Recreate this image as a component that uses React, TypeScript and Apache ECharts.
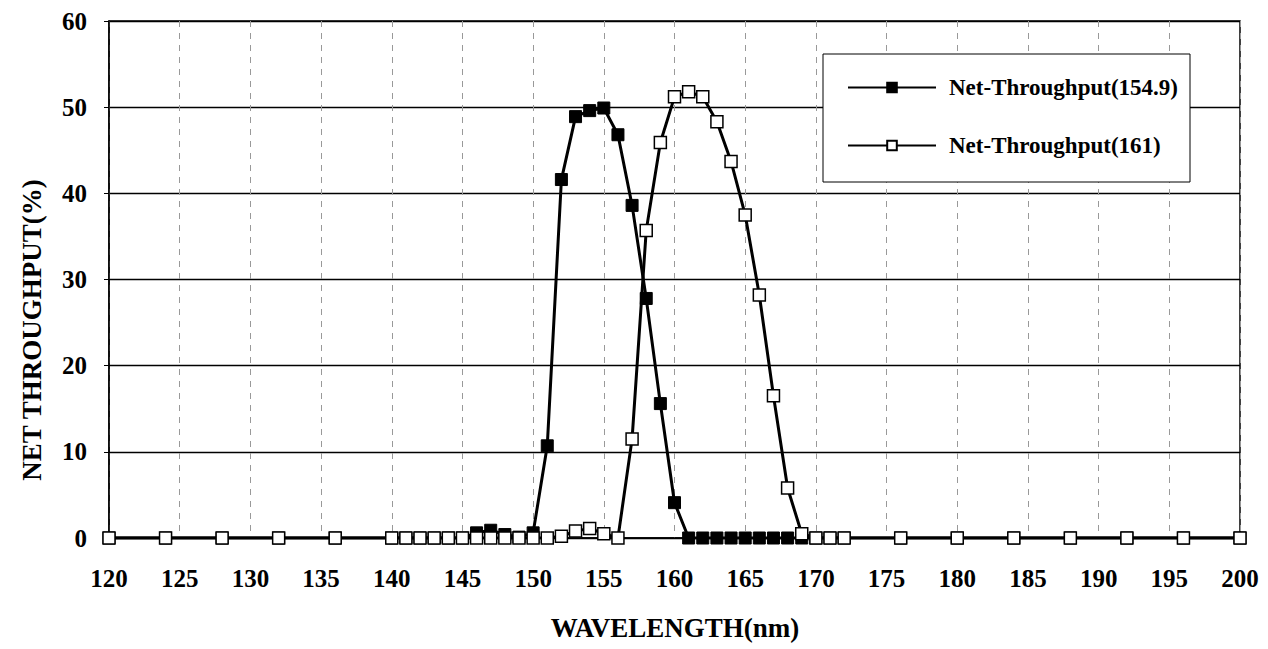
import React, { useEffect, useRef } from "react";
import * as echarts from "echarts";

const wavelengths = [
  120, 124, 128, 132, 136,
  140, 141, 142, 143, 144, 145, 146, 147, 148, 149, 150,
  151, 152, 153, 154, 155, 156, 157, 158, 159, 160,
  161, 162, 163, 164, 165, 166, 167, 168, 169, 170, 171, 172,
  176, 180, 184, 188, 192, 196, 200,
];

const throughput1549 = [
  0, 0, 0, 0, 0,
  0, 0, 0, 0, 0, 0, 0.6, 0.9, 0.4, 0.1, 0.6,
  10.7, 41.6, 48.9, 49.6, 49.9, 46.8, 38.6, 27.8, 15.6, 4.1,
  0, 0, 0, 0, 0, 0, 0, 0, 0, 0, 0, 0,
  0, 0, 0, 0, 0, 0, 0,
];

const throughput161 = [
  0, 0, 0, 0, 0,
  0, 0, 0, 0, 0, 0, 0, 0, 0, 0, 0,
  0, 0.2, 0.8, 1.1, 0.5, 0, 11.5, 35.7, 45.9, 51.2,
  51.8, 51.2, 48.3, 43.7, 37.5, 28.2, 16.5, 5.8, 0.5, 0, 0, 0,
  0, 0, 0, 0, 0, 0, 0,
];

const seriesNames = ["Net-Throughput(154.9)", "Net-Throughput(161)"];
const xTitle = "WAVELENGTH(nm)";
const yTitle = "NET THROUGHPUT(%)";

export default function App() {
  const ref = useRef<HTMLDivElement>(null);

  useEffect(() => {
    const chart = echarts.init(ref.current as HTMLDivElement, null, { renderer: "svg" });
    const font = "'Liberation Serif', 'Times New Roman', serif";
    const pairs1 = wavelengths.map((w, i) => [w, throughput1549[i]]);
    const pairs2 = wavelengths.map((w, i) => [w, throughput161[i]]);

    chart.setOption({
      animation: false,
      backgroundColor: "#fff",
      grid: {
        left: 109,
        right: 28,
        top: 21,
        bottom: 111,
        show: true,
        borderColor: "#000",
        borderWidth: 1.5,
      },
      xAxis: {
        type: "value",
        min: 120,
        max: 200,
        interval: 5,
        axisLine: { show: true, lineStyle: { color: "#000", width: 1.5 } },
        axisTick: { show: false },
        axisLabel: {
          fontFamily: font,
          fontWeight: "bold",
          fontSize: 25,
          color: "#000",
          margin: 28,
        },
        splitLine: { show: true, lineStyle: { color: "#999", type: [6, 6], width: 1 } },
      },
      yAxis: {
        type: "value",
        min: 0,
        max: 60,
        interval: 10,
        axisLine: { show: true, lineStyle: { color: "#000", width: 1.5 } },
        axisTick: { show: true, length: 5, lineStyle: { color: "#000" } },
        axisLabel: {
          fontFamily: font,
          fontWeight: "bold",
          fontSize: 25,
          color: "#000",
          margin: 22,
        },
        splitLine: { show: true, lineStyle: { color: "#000", width: 1.3 } },
      },
      legend: {
        orient: "vertical",
        left: 842,
        top: 71,
        z: 10,
        itemWidth: 88,
        itemHeight: 12,
        itemGap: 35,
        textStyle: {
          fontFamily: font,
          fontWeight: "bold",
          fontSize: 23,
          color: "#000",
          padding: [0, 0, 0, 8],
        },
        data: seriesNames,
      },
      graphic: [
        {
          type: "rect",
          z: 3,
          shape: { x: 823, y: 54, width: 367, height: 128 },
          style: { fill: "#fff", stroke: "#000", lineWidth: 1 },
        },
        {
          type: "text",
          x: 675,
          y: 628,
          style: {
            text: xTitle,
            font: "bold 27px 'Liberation Serif', serif",
            fill: "#000",
            textAlign: "center",
            textVerticalAlign: "middle",
          },
        },
        {
          type: "text",
          x: 32,
          y: 330,
          rotation: Math.PI / 2,
          style: {
            text: yTitle,
            font: "bold 27px 'Liberation Serif', serif",
            fill: "#000",
            textAlign: "center",
            textVerticalAlign: "middle",
          },
        },
      ],
      series: [
        {
          name: seriesNames[0],
          type: "line",
          data: pairs1,
          symbol: "rect",
          symbolSize: 12,
          z: 3,
          lineStyle: { color: "#000", width: 3 },
          itemStyle: { color: "#000", borderColor: "#000", borderWidth: 1 },
        },
        {
          name: seriesNames[1],
          type: "line",
          data: pairs2,
          symbol: "rect",
          symbolSize: 12,
          z: 4,
          lineStyle: { color: "#000", width: 3 },
          itemStyle: { color: "#fff", borderColor: "#000", borderWidth: 1.5 },
        },
      ],
    });

    return () => chart.dispose();
  }, []);

  return (
    <div
      ref={ref}
      style={{ position: "absolute", left: 0, top: 0, width: 1268, height: 649, background: "#fff" }}
    />
  );
}
